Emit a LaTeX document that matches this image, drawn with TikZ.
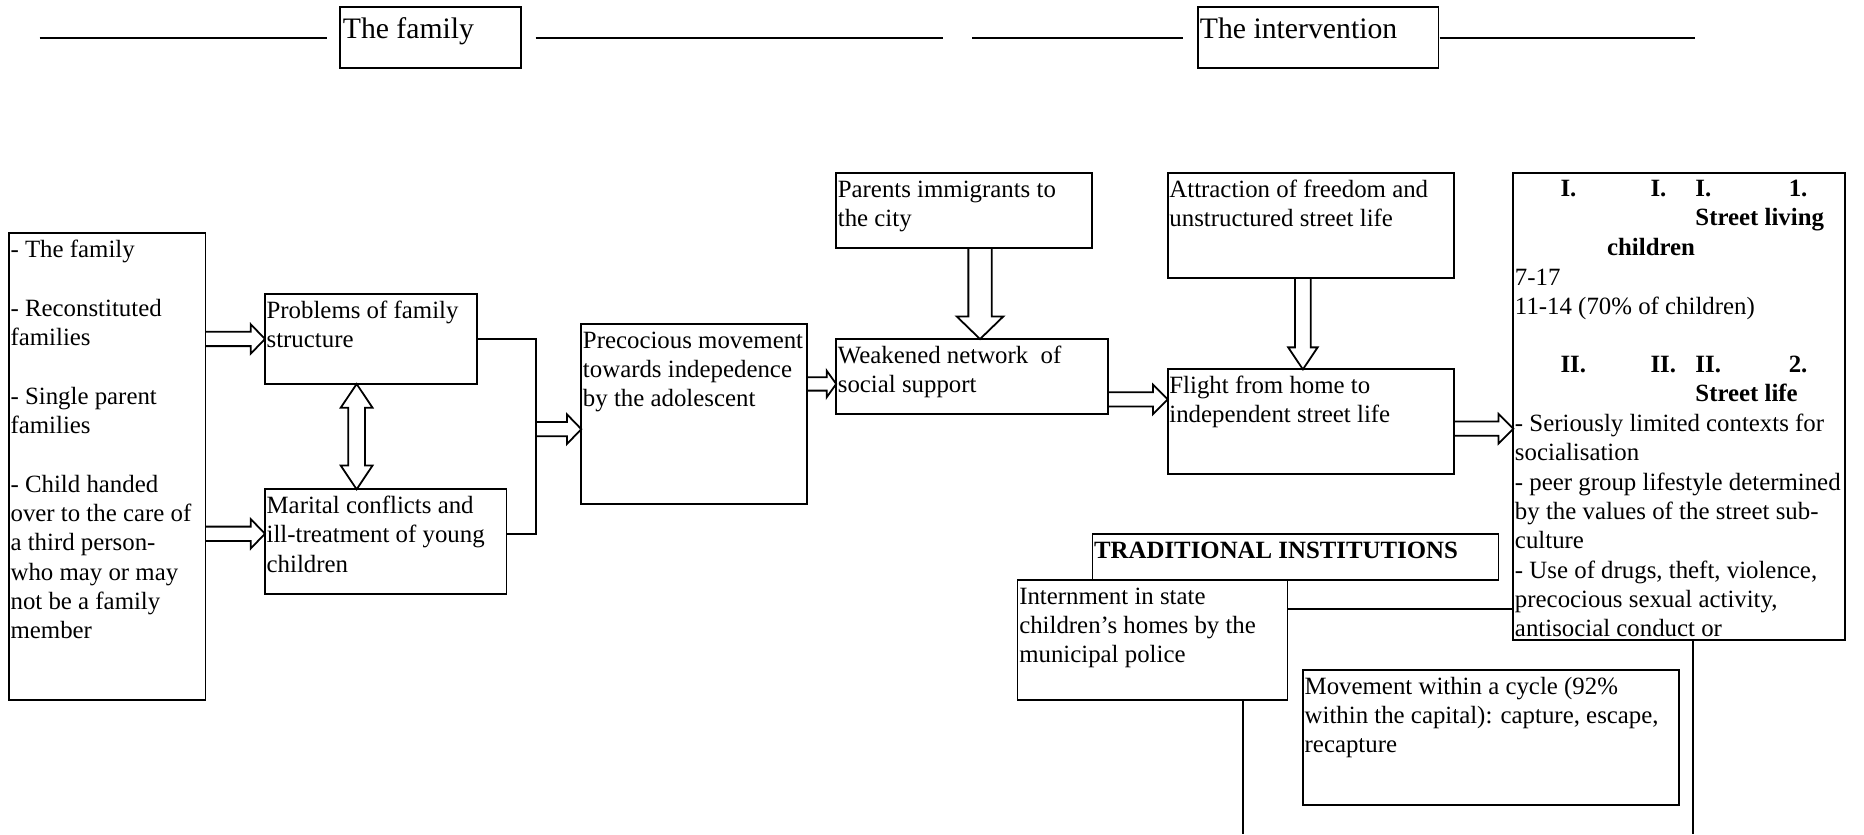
\documentclass[tikz,border=0pt]{standalone}
\usepackage{fontspec}
\setmainfont{Liberation Serif}
\usetikzlibrary{calc}

\newcommand{\bodyfont}{\fontsize{10.45pt}{12.33pt}\selectfont}
\newcommand{\titlefont}{\fontsize{12.5pt}{14.5pt}\selectfont}
\newcommand{\firstline}{\rule{0pt}{10pt}}

% outlined block arrows: #1 start, #2 tip, #3 half shaft, #4 half head, #5 head length
\newcommand{\hollowright}[5]{%
  \draw[hollow] let \p1=(#1), \p2=(#2) in
    (\x1,{\y1+#3}) -- ({\x2-#5},{\y1+#3}) -- ({\x2-#5},{\y1+#4}) -- (\x2,\y1)
    -- ({\x2-#5},{\y1-#4}) -- ({\x2-#5},{\y1-#3}) -- (\x1,{\y1-#3});}
\newcommand{\hollowdown}[5]{%
  \draw[hollow] let \p1=(#1), \p2=(#2) in
    ({\x1+#3},\y1) -- ({\x1+#3},{\y2+#5}) -- ({\x1+#4},{\y2+#5}) -- (\x1,\y2)
    -- ({\x1-#4},{\y2+#5}) -- ({\x1-#3},{\y2+#5}) -- ({\x1-#3},\y1);}
\newcommand{\hollowboth}[5]{%
  \draw[hollow] let \p1=(#1), \p2=(#2) in
    (\x1,\y1) -- ({\x1+#4},{\y1-#5}) -- ({\x1+#3},{\y1-#5}) -- ({\x1+#3},{\y2+#5})
    -- ({\x1+#4},{\y2+#5}) -- (\x1,\y2) -- ({\x1-#4},{\y2+#5}) -- ({\x1-#3},{\y2+#5})
    -- ({\x1-#3},{\y1-#5}) -- ({\x1-#4},{\y1-#5}) -- cycle;}

\tikzset{
  boxn/.style={draw, line width=0.75pt, inner sep=0pt, outer sep=0pt, rectangle},
  txt/.style={anchor=north west, inner sep=0pt, align=left, font=\bodyfont},
  lbl/.style={anchor=base west, inner sep=0pt, font=\bodyfont},
  hdg/.style={anchor=base west, inner sep=0pt, font=\bodyfont\bfseries},
  ttl/.style={anchor=base west, inner sep=0pt, font=\titlefont},
  conn/.style={line width=0.75pt},
  rule/.style={line width=0.9pt},
  hollow/.style={line width=0.75pt, line join=miter},
}

\begin{document}
\begin{tikzpicture}[x=0.5pt,y=-0.5pt]
\useasboundingbox (0,0) rectangle (1568,701.6);

% ---- header rules and titles
\coordinate (r1a) at (33.3,32.3);   \coordinate (r1b) at (274.7,32.3);
\coordinate (r2a) at (450.6,32.3);  \coordinate (r2b) at (793,32.3);
\coordinate (r3a) at (818,32.3);    \coordinate (r3b) at (995.3,32.3);
\coordinate (r4a) at (1211,32.3);   \coordinate (r4b) at (1426,32.3);
\draw[rule] (r1a) -- (r1b);
\draw[rule] (r2a) -- (r2b);
\draw[rule] (r3a) -- (r3b);
\draw[rule] (r4a) -- (r4b);

\node[boxn, minimum width=76.15pt, minimum height=25.65pt] (t1) at (362.15,31.85) {};
\node[boxn, minimum width=101.25pt, minimum height=25.65pt] (t2) at (1108.75,31.85) {};
\node[ttl] (t1-t) at (288,32.5) {The family};
\node[ttl] (t2-t) at (1009,32.5) {The intervention};

% ---- boxes
\node[boxn, minimum width=82.65pt, minimum height=196.25pt] (fam) at (90.15,392.55) {};
\node[boxn, minimum width=89.05pt, minimum height=37.85pt] (pf) at (311.95,285.15) {};
\node[boxn, minimum width=101.55pt, minimum height=44.05pt] (mc) at (324.45,455.65) {};
\node[boxn, minimum width=94.8pt, minimum height=75.75pt] (pm) at (583.8,348.25) {};
\node[boxn, minimum width=107.75pt, minimum height=31.55pt] (pi) at (811.15,177.35) {};
\node[boxn, minimum width=114.2pt, minimum height=31.55pt] (wn) at (817.6,316.75) {};
\node[boxn, minimum width=120.35pt, minimum height=44.15pt] (af) at (1102.65,189.95) {};
\node[boxn, minimum width=120.35pt, minimum height=44pt] (fh) at (1102.65,354.7) {};
\node[boxn, minimum width=139.35pt, minimum height=196.3pt] (sl) at (1412.35,342.1) {};
\node[boxn, minimum width=170.8pt, minimum height=19.35pt] (ti) at (1089.8,468.55) {};
\node[boxn, minimum width=113.5pt, minimum height=50.45pt] (ins) at (969.5,538.35) {};
\node[boxn, minimum width=158.25pt, minimum height=56.8pt] (mv) at (1254.35,620.4) {};

% ---- box texts
\node[txt] (fam-t) at ([xshift=0.5pt]fam.north west) {\firstline - The family\\[12.33pt]- Reconstituted\\families\\[12.33pt]- Single parent\\families\\[12.33pt]- Child handed\\over to the care of\\a third person-\\who may or may\\not be a family\\member};
\node[txt] (pf-t) at ([xshift=0.5pt]pf.north west) {\firstline Problems of family\\structure};
\node[txt] (mc-t) at ([xshift=0.5pt]mc.north west) {\firstline Marital conflicts and\\ill-treatment of young\\children};
\node[txt] (pm-t) at ([xshift=0.5pt]pm.north west) {\firstline Precocious movement\\towards indepedence\\by the adolescent};
\node[txt] (pi-t) at ([xshift=0.5pt]pi.north west) {\firstline Parents immigrants to\\the city};
\node[txt] (wn-t) at ([xshift=0.5pt]wn.north west) {\firstline Weakened network\ \ of\\social support};
\node[txt] (af-t) at ([xshift=0.5pt]af.north west) {\firstline Attraction of freedom and\\unstructured street life};
\node[txt] (fh-t) at ([xshift=0.5pt]fh.north west) {\firstline Flight from home to\\independent street life};
\node[txt, font=\bodyfont\bfseries] (ti-t) at ([xshift=0.5pt]ti.north west) {\firstline TRADITIONAL INSTITUTIONS};
\node[txt] (ins-t) at ([xshift=0.5pt]ins.north west) {\firstline Internment in state\\children’s homes by the\\municipal police};
\node[txt] (mv-t) at ([xshift=0.5pt]mv.north west) {\firstline Movement within a cycle (92\%\\within the capital): capture, escape,\\recapture};

% ---- street box contents
\node[hdg] (h1a) at (1312.3,165.4) {I.};
\node[hdg] (h1b) at (1388,165.4) {I.};
\node[hdg] (h1c) at (1425.8,165.4) {I.};
\node[hdg] (h1d) at (1504.3,165.4) {1.};
\node[hdg] (h1e) at (1425.8,190.05) {Street living};
\node[hdg] (h1f) at (1351.5,214.7) {children};
\node[txt] (ages) at (1274,219.35) {\firstline 7-17\\11-14 (70\% of children)};
\node[hdg] (h2a) at (1312.3,313.3) {II.};
\node[hdg] (h2b) at (1388,313.3) {II.};
\node[hdg] (h2c) at (1425.8,313.3) {II.};
\node[hdg] (h2d) at (1504.3,313.3) {2.};
\node[hdg] (h2e) at (1425.8,337.95) {Street life};
\node[txt] (life) at (1274,342.6) {\firstline - Seriously limited contexts for\\socialisation\\- peer group lifestyle determined\\by the values of the street sub-\\culture\\- Use of drugs, theft, violence,\\precocious sexual activity,\\antisocial conduct or};

% ---- connector points
\coordinate (mcin) at (pf.west |- 0,449);
\coordinate (jn) at (450.6,361);
\coordinate (wnin) at (wn.west |- 0,323);
\coordinate (wntop) at (824.4,285.2);
\coordinate (fhin) at (fh.west |- 0,336);
\coordinate (fhtop) at (1096,310.7);
\coordinate (slin) at (sl.west |- 0,360.6);
\coordinate (dbtop) at (300,323);
\coordinate (lk) at (sl.west |- 0,512.6);
\coordinate (insend) at (1045.6,701.6);
\coordinate (slend) at (1424.2,701.6);

% ---- plain connectors
\draw[conn] (pf.east) -| (jn) |- (mc.east |- mcin);
\draw[conn] (ins.east |- lk) -- (lk);
\draw[conn] (ins.south -| insend) -- (insend);
\draw[conn] (sl.south -| slend) -- (slend);

% ---- block arrows
\hollowright{fam.east |- pf.west}{pf.west}{3pt}{6.2pt}{6pt}
\hollowright{fam.east |- mcin}{mcin}{3pt}{6.2pt}{6pt}
\hollowright{jn}{pm.west |- jn}{3pt}{6.2pt}{6pt}
\hollowright{pm.east |- wnin}{wnin}{2.8pt}{5.6pt}{4pt}
\hollowdown{pi.south -| wntop}{wntop}{4.9pt}{9.8pt}{9.5pt}
\hollowright{wn.east |- fhin}{fhin}{3pt}{6.2pt}{6.2pt}
\hollowdown{af.south -| fhtop}{fhtop}{3.3pt}{6.2pt}{9.25pt}
\hollowright{fh.east |- slin}{slin}{3pt}{6.2pt}{6.2pt}
\hollowboth{pf.south -| dbtop}{mc.north -| dbtop}{3.5pt}{6.7pt}{10pt}

\end{tikzpicture}
\end{document}
